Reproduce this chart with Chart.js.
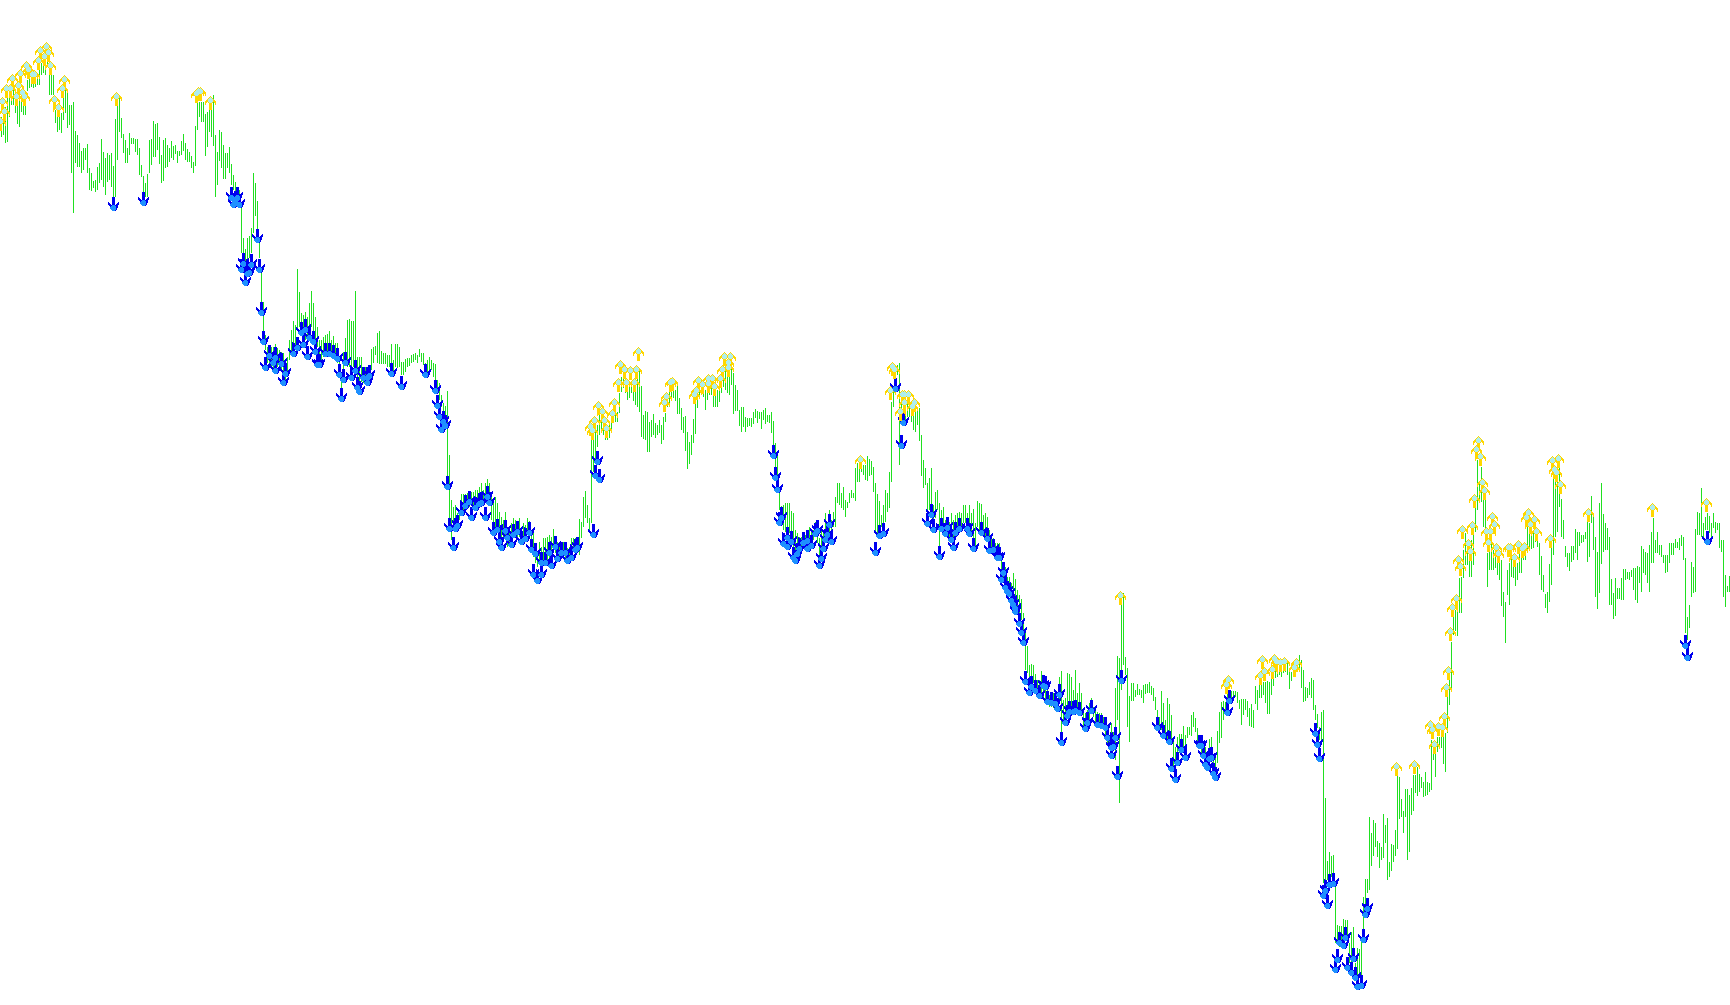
<!DOCTYPE html>
<html>
<head>
<meta charset="utf-8">
<title>Bars with signal arrows</title>
<script src="https://cdn.jsdelivr.net/npm/chart.js@4"></script>
<style>
  html, body { margin: 0; padding: 0; background: #fff; }
  canvas { display: block; }
</style>
</head>
<body>
<canvas id="chart" width="1730" height="1005"></canvas>
<script>
// level axis runs downward
const highs = [
117,113,107,97,87,90,90,92,97,93, 93,93,97,80,77,77,77,75,73,60,
63,60,57,60,75,75,75,110,117,117, 113,97,90,90,105,105,102,131,135,143,
151,148,148,144,168,173,181,180,167,163, 139,152,158,153,155,153,166,119,103,98,
118,134,140,148,133,138,138,139,139,148, 165,176,183,174,140,139,121,124,123,137,
155,140,138,145,148,141,146,145,151,151, 141,134,143,149,152,156,162,126,103,102,
102,102,114,112,107,105,95,135,152,130, 132,145,153,153,147,164,175,182,188,190,
203,238,249,238,236,228,173,183,201,241, 270,302,335,347,347,347,347,344,348,350,
352,353,360,357,340,330,321,325,269,292, 313,315,312,317,303,291,303,317,327,340,
340,337,335,334,331,340,336,343,343,360, 373,352,338,320,319,321,321,291,357,357,
357,367,367,367,367,349,347,346,333,331, 351,353,353,355,355,344,360,344,344,347,
362,362,359,358,358,355,354,353,355,349, 353,353,363,360,357,360,363,364,380,383,
395,403,406,391,455,500,507,505,513,510, 494,494,494,493,495,492,492,490,490,487,
483,490,483,479,483,497,502,497,503,512, 517,520,512,527,527,523,518,520,523,518,
527,523,525,518,521,530,532,547,553,542, 547,538,538,537,535,537,529,537,542,542,
542,542,547,548,547,538,538,538,538,519, 522,497,491,505,518,440,440,427,425,415,
420,425,430,430,422,417,410,408,412,393, 377,370,380,387,387,382,382,380,370,370,
386,415,411,412,422,420,414,423,425,420, 425,417,413,395,390,388,388,390,385,398,
408,417,416,432,442,435,419,395,387,385, 383,383,390,383,383,380,390,390,390,383,
377,367,363,373,370,367,373,385,390,410, 407,407,417,418,418,418,412,409,411,412,
412,410,408,415,415,412,421,443,453,490, 506,505,503,503,503,511,513,530,533,537,
537,533,535,537,527,530,530,522,523,538, 530,530,513,522,510,520,512,497,483,483,
493,487,500,502,493,490,493,468,463,460, 465,465,465,456,459,461,467,483,494,501,
515,505,490,493,472,402,387,370,365,363, 393,400,402,400,402,402,408,405,407,408,
435,460,468,483,478,468,505,492,490,503, 510,507,520,517,522,513,520,515,513,512,
513,505,505,513,505,513,509,523,501,503, 504,515,513,517,530,537,538,543,543,543,
557,563,567,577,577,583,573,579,590,595, 599,613,628,646,665,664,665,674,680,680,
671,675,683,690,695,697,693,697,700,677, 671,700,698,673,674,677,690,670,693,683,
693,710,713,710,703,698,707,710,712,713, 713,717,720,728,737,723,732,688,656,658,
593,593,657,668,696,683,683,690,684,689, 690,685,684,684,682,686,688,697,710,717,
691,703,720,698,704,715,740,747,737,734, 734,726,735,727,727,715,712,718,728,737,
743,747,747,753,739,737,760,753,731,712, 702,701,702,693,692,691,691,691,692,700,
699,699,699,701,708,704,710,686,690,685, 680,682,682,681,682,679,670,670,670,672,
670,663,663,663,670,672,667,665,662,655, 660,670,687,688,682,678,680,705,714,727,
712,710,798,861,852,856,855,883,925,926, 926,919,920,920,943,932,927,963,948,949,
940,897,879,879,817,833,820,823,841,843, 847,814,825,818,862,844,845,830,773,777,
799,811,789,789,795,788,775,775,767,774, 777,782,772,782,783,740,750,747,737,737,
737,733,733,697,680,642,617,610,610,578, 577,550,533,540,547,540,533,508,460,483,
467,500,500,553,547,543,550,547,553,557, 560,592,602,570,563,553,560,563,563,553,
553,547,550,527,527,530,530,527,533,543, 556,575,594,592,564,548,478,470,473,467,
499,520,546,553,553,546,546,529,532,532, 535,535,532,517,523,496,517,537,552,503,
483,514,523,528,537,579,593,578,588,588, 578,569,569,572,572,570,568,568,566,567,
546,549,552,553,545,532,518,540,532,545, 545,555,555,555,543,543,543,539,542,538,
535,537,558,617,605,562,567,529,512,513, 488,523,517,513,516,523,513,522,523,523,
540,540,575,586,576
];
const lows = [
137,135,143,142,117,105,105,113,124,127, 112,115,115,91,88,87,88,87,85,85,
75,73,75,67,95,95,95,123,132,130, 133,120,113,128,125,173,213,163,167,167,
173,170,160,173,190,191,188,192,190,183, 180,187,195,182,180,187,197,197,160,132,
138,153,163,163,155,144,144,152,155,175, 177,193,197,197,173,165,157,157,150,164,
183,181,168,167,162,158,160,154,163,156, 155,151,160,162,162,168,173,166,130,117,
122,122,156,147,132,137,146,197,185,161, 168,179,179,168,173,185,190,195,200,202,
253,258,262,262,258,253,233,216,230,258, 302,335,350,363,367,367,370,370,367,367,
370,375,380,373,360,353,353,350,328,327, 333,340,340,340,333,327,340,343,347,360,
360,357,357,357,357,357,358,360,363,373, 397,373,363,367,367,373,367,373,382,383,
382,383,380,377,377,370,363,355,363,364, 364,364,364,367,367,370,373,367,368,367,
375,375,372,367,366,363,362,360,363,357, 362,365,377,373,370,370,377,380,393,400,
407,417,423,478,523,540,530,523,523,520, 510,510,507,503,507,503,507,503,500,498,
497,500,498,497,500,520,523,527,533,540, 547,540,540,547,543,540,533,535,540,537,
540,538,542,533,537,547,557,563,567,563, 563,560,557,563,563,557,550,553,558,557,
553,557,560,562,557,553,550,550,547,555, 538,527,518,523,532,523,472,463,447,435,
433,435,440,440,438,433,423,422,422,413, 392,388,393,400,398,393,401,405,407,412,
437,439,440,452,452,437,435,438,435,433, 444,440,422,407,403,398,398,401,414,414,
430,433,451,469,464,455,443,434,408,397, 395,397,410,400,395,395,407,407,407,402,
393,387,390,393,395,385,414,411,411,426, 432,427,432,427,426,427,424,418,423,419,
429,420,424,422,423,433,445,467,477,510, 517,530,532,530,533,537,547,557,557,550,
550,547,548,550,547,543,540,537,543,563, 550,543,540,537,533,537,527,527,503,505,
508,510,517,508,503,498,498,501,482,482, 472,475,480,481,476,475,492,532,537,530,
527,527,522,512,508,482,407,385,375,465, 423,420,422,417,417,422,430,432,425,441,
476,488,485,513,510,510,523,518,510,547, 527,533,530,537,540,533,547,535,527,527,
527,523,523,527,523,537,540,547,527,530, 523,533,537,540,547,550,553,560,557,558,
570,577,580,590,593,600,593,600,610,615, 620,640,670,673,680,683,683,687,690,693,
693,697,700,703,707,707,708,710,710,700, 743,723,720,707,710,707,710,710,713,710,
713,727,730,723,720,713,717,723,727,727, 728,730,737,743,750,747,750,760,720,803,
690,665,675,727,742,701,701,697,695,695, 698,703,694,693,693,695,701,710,723,727,
730,737,738,743,743,743,767,777,760,753, 753,750,753,738,735,736,727,732,742,745,
753,758,760,767,757,753,772,773,763,743, 738,720,713,707,702,702,698,697,703,709,
725,715,710,717,726,727,728,704,710,698, 698,695,703,714,714,695,686,678,677,675,
677,673,672,675,689,681,673,673,672,668, 688,702,701,698,695,698,710,720,728,740,
742,883,887,880,877,877,877,943,943,947, 943,937,937,940,963,962,953,977,977,977,
980,940,913,893,890,866,856,847,857,868, 860,858,843,880,877,871,862,856,849,819,
817,833,817,860,852,815,811,793,796,792, 788,797,796,795,792,790,760,777,752,748,
748,764,772,733,705,689,635,631,636,613, 613,578,565,565,577,577,565,532,510,500,
502,527,530,587,570,570,570,568,575,580, 606,617,643,595,605,577,578,586,580,573,
573,560,560,550,549,549,548,542,547,575, 590,592,608,613,602,585,555,537,532,507,
537,539,557,567,571,562,560,553,560,546, 543,542,539,562,557,523,550,597,609,593,
564,552,550,550,605,605,619,616,599,599, 600,600,580,579,580,577,590,600,603,583,
592,573,575,583,592,563,563,553,553,555, 557,563,573,572,563,555,555,548,548,550,
546,560,633,640,628,597,593,592,535,535, 537,537,530,530,533,537,528,533,530,548,
552,597,607,592,592
];

const upBars = [
58,23,20,24,22,19,25,13,14,10,6,16,17,9,3,5,11,8,12,1,2,0,32,31,27,29,99,100,98,105,
319,310,312,315,318,309,313,317,299,307,301,306,297,302,295,296,303,
336,335,333,332,349,351,348,347,354,356,354,357,360,362,365,364,361,364,
430,446,447,445,451,452,454,452,450,457,456,560,
631,637,638,642,640,648,647,636,632,630,614,613,
698,707,717,715,716,719,721,722,723,724,
739,738,740,741,742,737,746,736,747,731,743,745,744,748,749,734,735,729,730,728,726,725,
754,755,757,759,761,762,764,763,767,765,768,775,776,779,777,778,780,794,826,853
];
const upLevels = [
99,49,53,55,59,63,68,68,72,76,81,77,77,88,91,91,95,99,99,104,114,124,82,91,102,110,94,94,96,103,
354,367,372,373,372,385,385,385,408,405,414,416,423,423,429,433,431,
384,385,399,405,383,387,393,397,381,381,386,389,381,359,359,365,372,370,
462,369,372,393,397,397,397,405,414,405,409,598,
662,661,664,664,665,665,670,672,674,678,682,687,
769,767,747,727,732,729,730,719,690,673,
443,452,459,485,493,501,519,528,527,532,534,534,545,550,556,546,554,562,569,601,610,634,
550,550,560,547,551,549,515,520,522,527,534,541,463,461,472,475,487,515,510,505
];
const downBars = [
56,71,115,117,118,116,119,128,121,125,120,124,123,129,122,
130,131,134,137,132,136,140,137,142,141,146,148,150,152,154,156,151,153,157,159,158,
162,164,166,168,172,169,171,170,175,177,178,179,181,183,184,183,195,200,212,217,218,219,221,222,220,
223,224,226,227,228,230,232,234,235,237,239,240,242,243,244,246,248,249,250,252,253,255,256,258,260,262,264,265,267,
270,266,268,270,272,274,275,277,278,280,282,283,285,287,288,296,297,299,298,
386,387,388,390,389,391,393,393,395,396,397,398,399,401,403,405,403,407,408,411,410,409,412,413,414,415,
447,451,450,437,439,441,465,463,466,469,470,472,473,475,476,477,479,483,484,486,490,493,494,496,498,499,501,500,502,503,504,505,506,507,
507,509,510,511,512,514,515,517,519,521,522,529,523,525,527,528,530,532,533,534,536,539,537,545,543,542,548,550,552,553,557,555,556,555,558,560,
578,581,584,590,592,588,585,587,599,600,601,605,604,602,603,606,607,657,658,659,614,613,
664,666,662,661,663,683,682,681,672,669,671,668,667,676,673,675,677,678,680,842,843,853
];
const downLevels = [
204,199,194,198,194,201,201,236,260,261,266,269,270,266,279,
309,338,352,354,364,359,360,367,370,379,350,344,329,326,334,338,341,353,348,361,361,
350,350,352,355,359,371,376,395,374,367,384,388,374,374,372,379,370,383,371,387,402,413,418,422,426,
483,525,544,525,522,509,502,498,514,504,500,499,514,493,499,529,526,538,544,527,534,541,531,528,538,535,529,546,550,
571,571,577,559,559,549,562,543,555,549,549,557,554,546,544,531,472,476,458,
452,474,486,514,519,540,543,534,538,554,557,550,545,539,537,542,545,530,527,545,555,562,536,531,521,538,
385,419,442,549,532,530,511,520,526,553,525,530,524,536,544,529,525,525,530,545,529,535,547,546,554,554,569,576,584,588,590,597,601,605,
608,620,629,639,678,689,683,687,692,682,683,691,698,699,700,705,739,719,712,708,708,709,707,707,719,725,721,722,724,734,734,744,743,752,773,677,
724,732,738,746,754,759,765,776,742,742,752,754,755,761,764,770,774,730,741,755,697,709,
881,880,887,892,902,905,911,936,934,939,942,956,966,955,964,969,974,983,982,642,654,538
];

// arrow glyphs, one character per pixel
const upGlyph = [
  ".....G.....",
  "....GPG....",
  "...GPPPG...",
  "..GPPPPPG..",
  ".GGPPPPPGG.",
  "GGGPPPPPGGG",
  "GG.GPPPG.GG",
  "G...GGG...G",
  "G...GGG...G",
  "....GGG....",
  "....GGG....",
  "....GGG....",
  "....GGG....",
  "....GGG....",
];
const downGlyph = [
  "....BBB....",
  "....BBB....",
  "....BBB....",
  "....BBB....",
  "....BBB....",
  "B...BBB...B",
  "BB..BBB..BB",
  "BBB.BBB.BBB",
  ".BBBDDDBBB.",
  "..BDDDDDBB.",
  "..DDDDDDBB.",
  "..DDDDDDB..",
  "...DDDDDB..",
  "....DDDB...",
];
const glyphColors = { G: "#ffd700", P: "#afeeee", B: "#0000ee", D: "#1e90ff" };

// only the characters in `keep` are painted, so dots can sit in a layer of their own
function makeSprite(rows, width, keep) {
  const c = document.createElement("canvas");
  c.width = width;
  c.height = rows.length;
  const g = c.getContext("2d");
  rows.forEach((row, y) => {
    [...row].forEach((ch, x) => {
      if (!keep.includes(ch)) return;
      g.fillStyle = glyphColors[ch];
      g.fillRect(x, y, 1, 1);
    });
  });
  return c;
}

const upPoints = upBars.map((x, i) => ({ x: x, y: upLevels[i] }));
const downPoints = downBars.map((x, i) => ({ x: x, y: downLevels[i] }));

new Chart(document.getElementById("chart"), {
  type: "bar",
  data: {
    datasets: [
      // dots lie on top of every arrow body; two spare columns keep up arrows one pixel left of the bar
      { type: "scatter", order: 1, data: upPoints, pointStyle: makeSprite(upGlyph, 13, "P"), pointRadius: 7 },
      { type: "scatter", order: 2, data: downPoints, pointStyle: makeSprite(downGlyph, 11, "D"), pointRadius: 7 },
      { type: "scatter", order: 3, data: upPoints, pointStyle: makeSprite(upGlyph, 13, "G"), pointRadius: 7 },
      { type: "scatter", order: 4, data: downPoints, pointStyle: makeSprite(downGlyph, 11, "B"), pointRadius: 7 },
      {
        type: "bar",
        order: 5,
        data: highs.map((h, i) => ({ x: i, y: [h, lows[i]] })),
        backgroundColor: "#20e020",
        barThickness: 1,
        inflateAmount: 0,
        borderWidth: 0,
      },
    ],
  },
  options: {
    responsive: false,
    devicePixelRatio: 1,
    animation: false,
    layout: { autoPadding: false, padding: 0 },
    plugins: { legend: { display: false }, tooltip: { enabled: false } },
    scales: {
      x: { type: "linear", display: false, offset: false, min: -0.75, max: 864.25 },
      y: { type: "linear", display: false, reverse: true, min: 0, max: 1005 },
    },
  },
});
</script>
</body>
</html>
